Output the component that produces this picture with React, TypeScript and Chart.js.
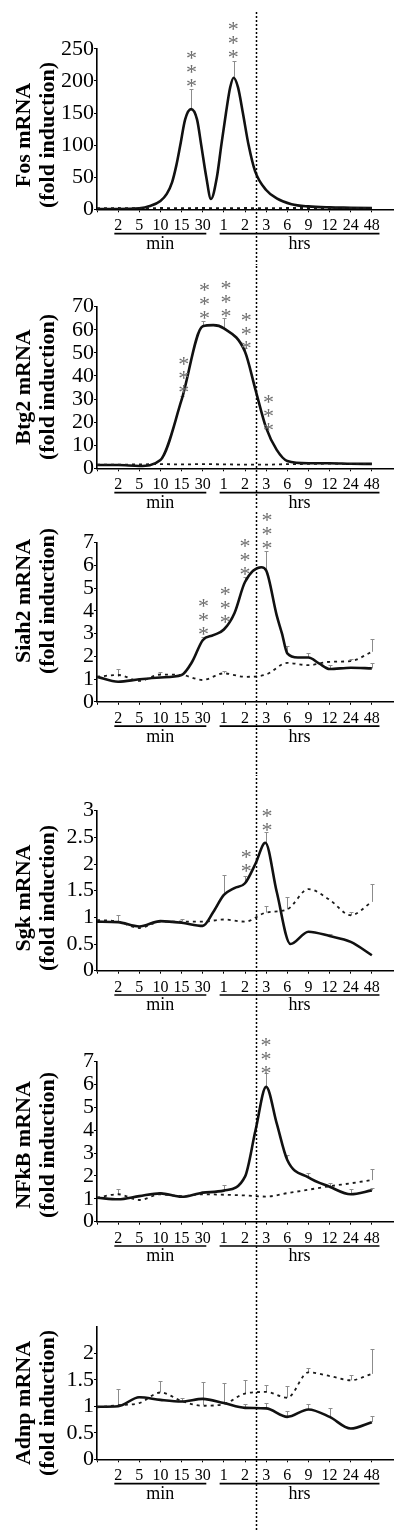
import React, { useEffect, useRef } from "react";
import { Chart, registerables } from "chart.js";

Chart.register(...registerables);

// ---------- shared categories ----------
const TIME_LABELS = ["2", "5", "10", "15", "30", "1", "2", "3", "6", "9", "12", "24", "48"];
const GROUP_MIN = "min";
const GROUP_HRS = "hrs";
const SAMPLE_X = [0, 1, 2, 3, 4, 5, 6, 7, 8, 9, 10, 11, 12, 13];
const Y_SUBTITLE = "(fold induction)";

// ---------- Fos ----------
const FOS_TITLE = "Fos mRNA";
const FOS_Y_TICKS = [0, 50, 100, 150, 200, 250];
const FOS_SOLID_X = [0, 1, 2, 2.5, 3, 3.3, 3.55, 3.75, 3.94, 4.17, 4.45, 4.73, 4.93, 5.17, 5.39, 5.67, 5.88, 6.1, 6.3, 6.46, 6.67, 6.9, 7.17, 7.48, 8.0, 8.5, 9.2, 10, 11, 12, 13];
const FOS_SOLID_Y = [0.5, 0.5, 1.5, 5, 13, 24, 42, 68, 100, 140, 156, 140, 100, 50, 16, 50, 100, 150, 190, 205, 190, 150, 100, 59, 30, 17, 8, 4.5, 3, 2.5, 2];
const FOS_DASH_Y = [1.8, 2, 1.7, 2, 1.9, 2, 1.8, 2, 1.9, 2, 2, 1.9, 2, 2];
const FOS_ERR_X = [4.45, 6.46];
const FOS_ERR_LO = [156, 205];
const FOS_ERR_HI = [187, 231];
const FOS_AST_X = [4.47, 6.44];
const FOS_AST_V = [198.8, 243];
const FOS_AST_N = [3, 3];

// ---------- Btg2 ----------
const BTG2_TITLE = "Btg2 mRNA";
const BTG2_Y_TICKS = [0, 10, 20, 30, 40, 50, 60, 70];
const BTG2_SOLID_X = [0, 1, 2, 3, 4, 5, 5.5, 6, 7, 7.5, 8, 8.5, 9, 10, 11, 12, 13];
const BTG2_SOLID_Y = [1.4, 1.4, 1.0, 3.6, 29.6, 61.5, 62, 60.6, 50.5, 33.9, 17.5, 8, 3.2, 2.2, 2.2, 2.0, 1.9];
const BTG2_DASH_Y = [1.6, 1.6, 1.7, 1.8, 1.7, 1.8, 1.7, 1.6, 1.6, 1.8, 1.9, 2.0, 1.9, 1.9];
const BTG2_ERR_X = [4, 5, 6, 7];
const BTG2_ERR_LO = [29.6, 61.5, 60.6, 50.5];
const BTG2_ERR_HI = [31.5, 64, 65, 52];
const BTG2_AST_X = [4.1, 5.09, 6.1, 7.06, 8.11];
const BTG2_AST_V = [34.6, 66.8, 67.8, 53.8, 18.4];
const BTG2_AST_N = [3, 3, 3, 3, 3];

// ---------- Siah2 ----------
const SIAH2_TITLE = "Siah2 mRNA";
const SIAH2_Y_TICKS = [0, 1, 2, 3, 4, 5, 6, 7];
const SIAH2_SOLID_X = [0, 1, 2, 3, 4, 4.5, 5, 5.5, 6, 6.5, 7, 7.77, 8, 8.5, 8.75, 9, 9.5, 10, 10.5, 11, 12, 13];
const SIAH2_SOLID_Y = [1.1, 0.88, 0.99, 1.07, 1.18, 1.76, 2.71, 2.93, 3.18, 3.9, 5.27, 5.92, 5.78, 3.8, 3.0, 2.13, 1.95, 1.95, 1.69, 1.44, 1.5, 1.47];
const SIAH2_DASH_Y = [1.1, 1.18, 0.92, 1.2, 1.18, 0.96, 1.25, 1.1, 1.2, 1.71, 1.61, 1.76, 1.79, 2.2];
const SIAH2_ERR_X = [1, 3, 5, 6, 7, 8, 9, 10, 11, 12, 13, 13];
const SIAH2_ERR_LO = [1.1, 1.2, 2.71, 1.25, 5.27, 5.78, 2.13, 1.95, 1.44, 1.79, 1.47, 2.2];
const SIAH2_ERR_HI = [1.45, 1.32, 2.85, 1.35, 5.5, 6.63, 2.45, 2.13, 1.6, 1.9, 1.71, 2.78];
const SIAH2_AST_X = [5.04, 6.07, 7.0, 8.04];
const SIAH2_AST_V = [3.15, 3.7, 5.78, 6.95];
const SIAH2_AST_N = [3, 3, 3, 3];

// ---------- Sgk ----------
const SGK_TITLE = "Sgk mRNA";
const SGK_Y_TICKS = [0, 0.5, 1, 1.5, 2, 2.5, 3];
const SGK_SOLID_X = [0, 1, 2, 3, 4, 5, 5.5, 6, 6.5, 7, 7.5, 7.96, 8.5, 9.15, 10, 11, 12, 13];
const SGK_SOLID_Y = [0.92, 0.91, 0.83, 0.93, 0.9, 0.84, 1.1, 1.42, 1.55, 1.64, 2.01, 2.4, 1.48, 0.5, 0.73, 0.65, 0.54, 0.29];
const SGK_DASH_Y = [0.95, 0.92, 0.8, 0.92, 0.92, 0.92, 0.96, 0.92, 1.09, 1.15, 1.53, 1.33, 1.04, 1.29];
const SGK_ERR_X = [1, 4, 6, 7, 8, 8, 9, 11, 12, 13];
const SGK_ERR_LO = [0.92, 0.92, 1.42, 1.64, 2.4, 1.09, 1.15, 0.65, 1.04, 1.29];
const SGK_ERR_HI = [1.05, 0.97, 1.79, 1.78, 2.6, 1.22, 1.38, 0.68, 1.1, 1.63];
const SGK_AST_X = [7.06, 8.04];
const SGK_AST_V = [1.94, 2.72];
const SGK_AST_N = [2, 2];

// ---------- NFkB ----------
const NFKB_TITLE = "NFkB mRNA";
const NFKB_Y_TICKS = [0, 1, 2, 3, 4, 5, 6, 7];
const NFKB_SOLID_X = [0, 1, 2, 3, 4, 5, 6, 7, 7.5, 8, 8.5, 9, 10, 11, 12, 13];
const NFKB_SOLID_Y = [1.05, 0.98, 1.12, 1.24, 1.09, 1.27, 1.36, 1.97, 4.01, 5.9, 4.3, 2.7, 1.94, 1.53, 1.2, 1.37];
const NFKB_DASH_Y = [1.05, 1.2, 0.95, 1.2, 1.12, 1.2, 1.18, 1.15, 1.1, 1.25, 1.4, 1.55, 1.68, 1.82];
const NFKB_ERR_X = [1, 3, 5, 6, 8, 9, 10, 11, 12, 13, 13];
const NFKB_ERR_LO = [1.2, 1.24, 1.27, 1.36, 5.9, 2.7, 1.94, 1.53, 1.2, 1.37, 1.82];
const NFKB_ERR_HI = [1.45, 1.32, 1.33, 1.6, 6.49, 2.9, 2.12, 1.7, 1.45, 1.46, 2.29];
const NFKB_AST_X = [7.99];
const NFKB_AST_V = [6.67];
const NFKB_AST_N = [3];

// ---------- Adnp ----------
const ADNP_TITLE = "Adnp mRNA";
const ADNP_Y_TICKS = [0, 0.5, 1, 1.5, 2];
const ADNP_SOLID_Y = [0.99, 1.0, 1.17, 1.12, 1.09, 1.14, 1.06, 0.97, 0.96, 0.8, 0.94, 0.8, 0.58, 0.7];
const ADNP_DASH_Y = [0.98, 1.02, 1.06, 1.26, 1.1, 1.01, 1.04, 1.24, 1.27, 1.16, 1.64, 1.57, 1.49, 1.61];
const ADNP_ERR_X = [1, 2, 3, 4, 5, 6, 7, 7, 8, 8, 9, 9, 10, 10, 11, 12, 13, 13];
const ADNP_ERR_LO = [1.0, 1.17, 1.26, 1.1, 1.02, 1.06, 1.24, 0.97, 1.27, 0.96, 1.16, 0.8, 1.64, 0.94, 0.8, 1.49, 1.61, 0.7];
const ADNP_ERR_HI = [1.33, 1.2, 1.48, 1.15, 1.46, 1.44, 1.5, 1.05, 1.41, 1.06, 1.38, 0.92, 1.72, 1.05, 0.96, 1.58, 2.08, 0.82];

const SERIF = '"Liberation Serif", "Times New Roman", serif';

type PanelCfg = {
  title: string;
  yMax: number;
  yTicks: number[];
  solidX: number[];
  solidY: number[];
  dashX: number[];
  dashY: number[];
  errX: number[];
  errLo: number[];
  errHi: number[];
  astX: number[];
  astV: number[];
  astN: number[];
  top: number;
  height: number;
  areaTop: number;
  axisY: number;
  titleY: number;
  lineTop: number;
};

const PANELS: PanelCfg[] = [
  {
    title: FOS_TITLE, yMax: 250, yTicks: FOS_Y_TICKS,
    solidX: FOS_SOLID_X, solidY: FOS_SOLID_Y, dashX: SAMPLE_X, dashY: FOS_DASH_Y,
    errX: FOS_ERR_X, errLo: FOS_ERR_LO, errHi: FOS_ERR_HI,
    astX: FOS_AST_X, astV: FOS_AST_V, astN: FOS_AST_N,
    top: 0, height: 265, areaTop: 48.8, axisY: 209.3, titleY: 135, lineTop: 12,
  },
  {
    title: BTG2_TITLE, yMax: 70, yTicks: BTG2_Y_TICKS,
    solidX: BTG2_SOLID_X, solidY: BTG2_SOLID_Y, dashX: SAMPLE_X, dashY: BTG2_DASH_Y,
    errX: BTG2_ERR_X, errLo: BTG2_ERR_LO, errHi: BTG2_ERR_HI,
    astX: BTG2_AST_X, astV: BTG2_AST_V, astN: BTG2_AST_N,
    top: 265, height: 245, areaTop: 41.7, axisY: 203.3, titleY: 122, lineTop: 0,
  },
  {
    title: SIAH2_TITLE, yMax: 7, yTicks: SIAH2_Y_TICKS,
    solidX: SIAH2_SOLID_X, solidY: SIAH2_SOLID_Y, dashX: SAMPLE_X, dashY: SIAH2_DASH_Y,
    errX: SIAH2_ERR_X, errLo: SIAH2_ERR_LO, errHi: SIAH2_ERR_HI,
    astX: SIAH2_AST_X, astV: SIAH2_AST_V, astN: SIAH2_AST_N,
    top: 510, height: 265, areaTop: 32.7, axisY: 191.8, titleY: 91, lineTop: 0,
  },
  {
    title: SGK_TITLE, yMax: 3, yTicks: SGK_Y_TICKS,
    solidX: SGK_SOLID_X, solidY: SGK_SOLID_Y, dashX: SAMPLE_X, dashY: SGK_DASH_Y,
    errX: SGK_ERR_X, errLo: SGK_ERR_LO, errHi: SGK_ERR_HI,
    astX: SGK_AST_X, astV: SGK_AST_V, astN: SGK_AST_N,
    top: 775, height: 250, areaTop: 35.7, axisY: 195.7, titleY: 123, lineTop: 0,
  },
  {
    title: NFKB_TITLE, yMax: 7, yTicks: NFKB_Y_TICKS,
    solidX: NFKB_SOLID_X, solidY: NFKB_SOLID_Y, dashX: SAMPLE_X, dashY: NFKB_DASH_Y,
    errX: NFKB_ERR_X, errLo: NFKB_ERR_LO, errHi: NFKB_ERR_HI,
    astX: NFKB_AST_X, astV: NFKB_AST_V, astN: NFKB_AST_N,
    top: 1025, height: 265, areaTop: 36.7, axisY: 196.7, titleY: 120, lineTop: 0,
  },
  {
    title: ADNP_TITLE, yMax: 2.5, yTicks: ADNP_Y_TICKS,
    solidX: SAMPLE_X, solidY: ADNP_SOLID_Y, dashX: SAMPLE_X, dashY: ADNP_DASH_Y,
    errX: ADNP_ERR_X, errLo: ADNP_ERR_LO, errHi: ADNP_ERR_HI,
    astX: [], astV: [], astN: [],
    top: 1290, height: 240, areaTop: 36.7, axisY: 169.3, titleY: 113, lineTop: 0,
  },
];

function makeOverlay(p: PanelCfg) {
  return {
    id: "overlay",
    beforeDatasetsDraw(chart: any) {
      const ctx = chart.ctx;
      const xs = chart.scales.x;
      const ys = chart.scales.y;
      ctx.save();
      ctx.strokeStyle = "#8c8c8c";
      ctx.lineWidth = 1;
      p.errX.forEach((x, i) => {
        const px = Math.round(xs.getPixelForValue(x)) + 0.5;
        const y1 = ys.getPixelForValue(p.errLo[i]);
        const y2 = Math.round(ys.getPixelForValue(p.errHi[i])) + 0.5;
        ctx.beginPath();
        ctx.moveTo(px, y1);
        ctx.lineTo(px, y2);
        ctx.moveTo(px - 2, y2);
        ctx.lineTo(px + 2, y2);
        ctx.stroke();
      });
      ctx.restore();
    },
    afterDraw(chart: any) {
      const ctx = chart.ctx;
      const xs = chart.scales.x;
      const ys = chart.scales.y;
      ctx.save();
      // asterisks
      ctx.fillStyle = "#6e6e6e";
      ctx.font = `22px ${SERIF}`;
      ctx.textAlign = "center";
      ctx.textBaseline = "alphabetic";
      p.astX.forEach((x, i) => {
        const px = xs.getPixelForValue(x);
        const py = ys.getPixelForValue(p.astV[i]);
        for (let k = 0; k < p.astN[i]; k++) {
          ctx.fillText("*", px, py - k * 14 + 11);
        }
      });
      // y titles
      ctx.fillStyle = "#000";
      ctx.font = `bold 22px ${SERIF}`;
      ctx.textAlign = "center";
      ctx.textBaseline = "alphabetic";
      [[p.title, 30], [Y_SUBTITLE, 54]].forEach(([t, bx]) => {
        ctx.save();
        ctx.translate(bx as number, p.titleY);
        ctx.rotate(-Math.PI / 2);
        ctx.fillText(t as string, 0, 0);
        ctx.restore();
      });
      // group underlines and labels
      const axisY = chart.chartArea.bottom;
      const uy = axisY + 24.3;
      ctx.strokeStyle = "#000";
      ctx.lineWidth = 1.7;
      const groups: [number, number, string][] = [
        [0.82, 5.17, GROUP_MIN],
        [5.8, 13.36, GROUP_HRS],
      ];
      ctx.font = `18px ${SERIF}`;
      ctx.textBaseline = "middle";
      groups.forEach(([a, b, label]) => {
        const x1 = xs.getPixelForValue(a);
        const x2 = xs.getPixelForValue(b);
        ctx.beginPath();
        ctx.moveTo(x1, uy);
        ctx.lineTo(x2, uy);
        ctx.stroke();
        ctx.fillText(label, (x1 + x2) / 2, axisY + 35);
      });
      // vertical dotted divider between 2 h and 3 h
      const dx = Math.round(xs.getPixelForValue(7.5)) + 0.5;
      ctx.setLineDash([2, 2]);
      ctx.lineDashOffset = -p.top;
      ctx.lineWidth = 1.5;
      ctx.beginPath();
      ctx.moveTo(dx, p.lineTop);
      ctx.lineTo(dx, p.height);
      ctx.stroke();
      ctx.restore();
    },
  };
}

function makeConfig(p: PanelCfg): any {
  const axisGrid = {
    display: true,
    drawOnChartArea: false,
    drawTicks: true,
    tickLength: 3,
    color: "#000",
    lineWidth: 1,
  };
  return {
    type: "line",
    data: {
      datasets: [
        {
          data: p.dashX.map((x, i) => ({ x, y: p.dashY[i] })),
          borderColor: "#1a1a1a",
          borderWidth: 1.8,
          borderDash: [3, 4],
          pointRadius: 0,
          fill: false,
          cubicInterpolationMode: "monotone",
        },
        {
          data: p.solidX.map((x, i) => ({ x, y: p.solidY[i] })),
          borderColor: "#111",
          borderWidth: 2.6,
          pointRadius: 0,
          fill: false,
          cubicInterpolationMode: "monotone",
        },
      ],
    },
    options: {
      animation: false,
      responsive: false,
      maintainAspectRatio: false,
      devicePixelRatio: 1,
      events: [],
      layout: { padding: { top: p.areaTop, right: 7, left: 0, bottom: 0 } },
      plugins: { legend: { display: false }, tooltip: { enabled: false }, title: { display: false } },
      scales: {
        x: {
          type: "linear",
          min: 0,
          max: 14,
          afterBuildTicks: (s: any) => {
            s.ticks = SAMPLE_X.map((v) => ({ value: v }));
          },
          afterFit: (s: any) => {
            s.height = p.height - p.axisY;
          },
          ticks: {
            autoSkip: false,
            maxRotation: 0,
            minRotation: 0,
            padding: 4,
            color: "#000",
            font: { family: SERIF, size: 16 },
            callback: (v: number) => (v >= 1 && v <= 13 ? TIME_LABELS[v - 1] : ""),
          },
          grid: axisGrid,
          border: { display: true, color: "#000", width: 1.6 },
        },
        y: {
          type: "linear",
          min: 0,
          max: p.yMax,
          afterBuildTicks: (s: any) => {
            s.ticks = p.yTicks.map((v) => ({ value: v }));
          },
          afterFit: (s: any) => {
            s.width = 97;
          },
          ticks: {
            autoSkip: false,
            padding: 0,
            color: "#000",
            font: { family: SERIF, size: 22 },
            callback: (v: number) => String(v),
          },
          grid: axisGrid,
          border: { display: true, color: "#000", width: 1.6 },
        },
      },
    },
    plugins: [makeOverlay(p)],
  };
}

function Panel({ cfg }: { cfg: PanelCfg }) {
  const ref = useRef<HTMLCanvasElement>(null);
  useEffect(() => {
    const chart = new Chart(ref.current as HTMLCanvasElement, makeConfig(cfg));
    return () => chart.destroy();
  }, [cfg]);
  return (
    <canvas
      ref={ref}
      width={400}
      height={cfg.height}
      style={{ position: "absolute", left: 0, top: cfg.top, width: 400, height: cfg.height, display: "block" }}
    />
  );
}

export default function App() {
  return (
    <div style={{ position: "absolute", left: 0, top: 0, width: 400, height: 1530, background: "#fff" }}>
      {PANELS.map((p, i) => (
        <Panel key={i} cfg={p} />
      ))}
    </div>
  );
}
